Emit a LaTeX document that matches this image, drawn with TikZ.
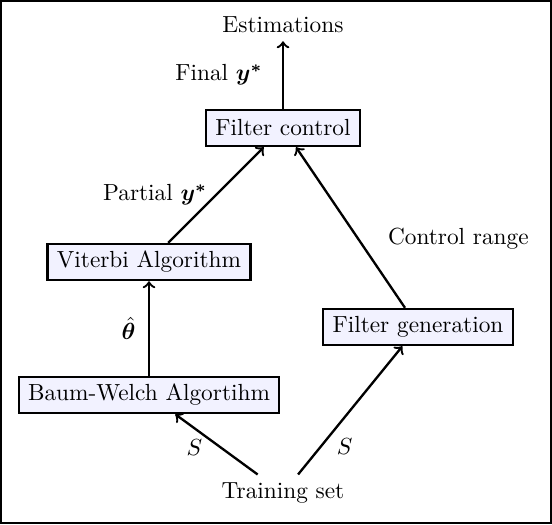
\documentclass[tikz,border=0pt]{standalone}
\usepackage{amsmath,amssymb}
\usepackage{bm}
\usepackage{tikz}
\usetikzlibrary{arrows}

\tikzset{
	block/.style={draw,line width=1pt,fill=blue!5,minimum height=15.5pt,inner xsep=4pt,inner ysep=3pt},
	flow/.style={->,line width=1pt}
}

\begin{document}
\begin{tikzpicture}[x=0.429pt,y=-0.429pt]
		\useasboundingbox (0,0) rectangle (552,524);
		\draw[line width=1pt] (1,1) rectangle (551,523);
		% nodes
		\node (est) at (283,25) {Estimations};
		\node[block] (fc) at (283,128) {Filter control};
		\node[block] (vit) at (149,262) {Viterbi Algorithm};
		\node[block] (bw) at (149,395) {Baum-Welch Algortihm};
		\node[block] (fg) at (418,327) {Filter generation};
		\node (train) at (283,493) {Training set};
		% connectors
		\draw[flow] (train) -- node[left=4pt,pos=0.45] {$S$} (bw);
		\draw[flow] (train) -- node[right=3pt,pos=0.22] {$S$} (fg);
		\draw[flow] (bw) -- node[left=2pt] {$\hat{\bm{\theta}}$} (vit);
		\draw[flow] (vit) -- node[left] {Partial $\bm{y^*}$} (fc);
		\draw[flow] (fg) -- node[right=9pt,pos=0.43] {Control range} (fc);
		\draw[flow] (fc) -- node[left=5pt] {Final $\bm{y^*}$} (est);
\end{tikzpicture}
\end{document}
